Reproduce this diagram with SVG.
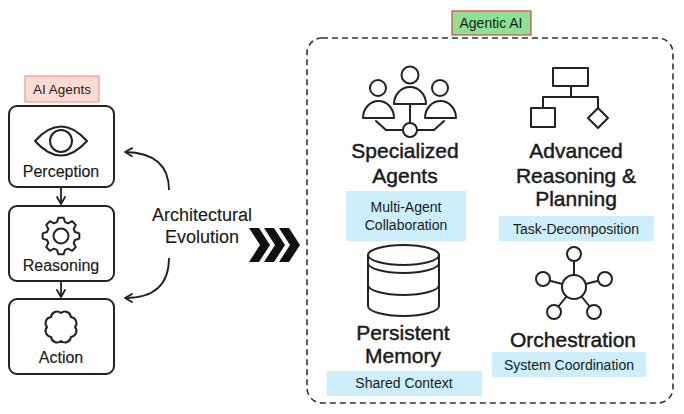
<svg xmlns="http://www.w3.org/2000/svg" width="684" height="414" viewBox="0 0 684 414">
<style>
text{font-family:"Liberation Sans",Arial,sans-serif;fill:#1a1a1a;text-anchor:middle}
.box{fill:#fff;stroke:#222;stroke-width:2}
.ic{fill:none;stroke:#222;stroke-width:2;stroke-linejoin:round;stroke-linecap:round}
.icw{fill:#fff;stroke:#222;stroke-width:2;stroke-linejoin:round}
.lbl{font-size:16px;stroke:#1a1a1a;stroke-width:0.15}
.head{font-size:21px;stroke:#1a1a1a;stroke-width:0.45}
.sub{font-size:14px}
.tag{fill:#cdeefb}
.con{fill:none;stroke:#222;stroke-width:1.8}
</style>
<defs>
<marker id="ah" markerWidth="10" markerHeight="10" refX="8" refY="5" orient="auto" markerUnits="userSpaceOnUse">
<path d="M1,1 L8,5 L1,9" fill="none" stroke="#222" stroke-width="1.8" stroke-linecap="round" stroke-linejoin="round"/>
</marker>
<path id="chev" d="M0,0 L10,0 L21,17 L10,34 L0,34 L11,17 Z"/>
</defs>
<rect width="684" height="414" fill="#fff"/>

<g id="ai-agents-label">
<rect x="25" y="76" width="74" height="26" fill="#fcdcd2" stroke="#e98a80" stroke-width="1"/>
<text x="62" y="94" style="font-size:13.5px">AI Agents</text>
</g>

<g id="perception">
<rect class="box" x="9" y="106" width="105" height="81" rx="8"/>
<path class="ic" d="M35,141 Q61,112 87,141 Q61,170 35,141 Z"/>
<circle class="ic" cx="61" cy="141" r="11"/>
<text class="lbl" x="61" y="177">Perception</text>
</g>

<g id="reasoning">
<rect class="box" x="9" y="206" width="105" height="75" rx="8"/>
<g transform="translate(61,236)">
<path class="ic" d="M-4,-13.94 L-2.58,-18.32 L2.58,-18.32 L4,-13.94 L7.03,-12.68 L11.13,-14.77 L14.77,-11.13 L12.68,-7.03 L13.94,-4 L18.32,-2.58 L18.32,2.58 L13.94,4 L12.68,7.03 L14.77,11.13 L11.13,14.77 L7.03,12.68 L4,13.94 L2.58,18.32 L-2.58,18.32 L-4,13.94 L-7.03,12.68 L-11.13,14.77 L-14.77,11.13 L-12.68,7.03 L-13.94,4 L-18.32,2.58 L-18.32,-2.58 L-13.94,-4 L-12.68,-7.03 L-14.77,-11.13 L-11.13,-14.77 L-7.03,-12.68 Z"/>
<circle class="ic" cx="0" cy="0" r="7.5"/>
</g>
<text class="lbl" x="61" y="271">Reasoning</text>
</g>

<g id="action">
<rect class="box" x="9" y="299" width="105" height="75" rx="8"/>
<g transform="translate(61,327)">
<path class="ic" d="M0,-14 A6 6 0 0 1 9.9,-9.9 A6 6 0 0 1 14,0 A6 6 0 0 1 9.9,9.9 A6 6 0 0 1 0,14 A6 6 0 0 1 -9.9,9.9 A6 6 0 0 1 -14,0 A6 6 0 0 1 -9.9,-9.9 A6 6 0 0 1 0,-14 Z"/>
</g>
<text class="lbl" x="61" y="363">Action</text>
</g>

<g id="evolution-label">
<text class="lbl" x="202" y="221" style="font-size:18px">Architectural</text>
<text class="lbl" x="202" y="243" style="font-size:18px">Evolution</text>
</g>

<g id="chevrons" fill="#111">
<use href="#chev" x="249" y="228"/>
<use href="#chev" x="264" y="228"/>
<use href="#chev" x="279" y="228"/>
</g>

<g id="connectors">
<line class="con" x1="61" y1="188" x2="61" y2="204" marker-end="url(#ah)"/>
<line class="con" x1="61" y1="282" x2="61" y2="297" marker-end="url(#ah)"/>
<path class="con" d="M169,190 Q169,153 125,152" marker-end="url(#ah)"/>
<path class="con" d="M169,258 Q169,298 125,298" marker-end="url(#ah)"/>
</g>

<g id="agentic-ai-label">
<rect x="452" y="11" width="79" height="24" fill="#8ee092" stroke="#e04040" stroke-width="1.2"/>
<text x="491" y="28" style="font-size:14px">Agentic AI</text>
</g>

<g id="agentic-ai">
<rect x="307" y="38" width="366" height="365" rx="15" fill="none" stroke="#333" stroke-width="1.6" stroke-dasharray="6 4"/>
</g>

<g id="specialized-agents">
<circle class="icw" cx="410" cy="75" r="8.5"/>
<circle class="icw" cx="378" cy="88" r="8"/>
<circle class="icw" cx="440" cy="88" r="8"/>
<path class="icw" d="M394,104 A16 17 0 0 1 426,104 Z"/>
<path class="icw" d="M363,118 A15.5 17 0 0 1 394,118 Z"/>
<path class="icw" d="M425,118 A15.5 17 0 0 1 456,118 Z"/>
<path class="ic" d="M410,104 L410,123 M376,121 L386,130 L403,130 M444,121 L434,130 L417,130"/>
<circle class="icw" cx="410" cy="130" r="7"/>
<text class="head" x="405" y="158">Specialized</text>
<text class="head" x="405" y="183">Agents</text>
<rect class="tag" x="346" y="191" width="120" height="50"/>
<text class="sub" x="406" y="212">Multi-Agent</text>
<text class="sub" x="406" y="230">Collaboration</text>
</g>

<g id="advanced-reasoning">
<rect class="icw" x="553" y="68" width="35" height="18"/>
<path class="ic" d="M571,86 L571,97 M543,97 L598,97 M543,97 L543,108 M598,97 L598,108"/>
<rect class="icw" x="531" y="108" width="24" height="19"/>
<path class="icw" d="M598,108 L608,118 L598,128 L588,118 Z"/>
<text class="head" x="576" y="158">Advanced</text>
<text class="head" x="576" y="183">Reasoning &amp;</text>
<text class="head" x="576" y="206">Planning</text>
<rect class="tag" x="499" y="216" width="155" height="25"/>
<text class="sub" x="576" y="234">Task-Decomposition</text>
</g>

<g id="persistent-memory">
<path class="icw" d="M368,255 L368,306 A35.5 10 0 0 0 439,306 L439,255"/>
<ellipse class="icw" cx="403.5" cy="255" rx="35.5" ry="10"/>
<path class="ic" d="M368,263 A35.5 10 0 0 0 439,263 M368,285 A35.5 10 0 0 0 439,285"/>
<text class="head" x="403" y="340">Persistent</text>
<text class="head" x="403" y="363">Memory</text>
<rect class="tag" x="327" y="371" width="155" height="25"/>
<text class="sub" x="404" y="388">Shared Context</text>
</g>

<g id="orchestration">
<path class="ic" d="M574,287 L574,254 M574,287 L605,279 M574,287 L543,279 M574,287 L554,312 M574,287 L594,312"/>
<circle class="icw" cx="574" cy="287" r="12"/>
<circle class="icw" cx="574" cy="254" r="7"/>
<circle class="icw" cx="605" cy="279" r="7"/>
<circle class="icw" cx="543" cy="279" r="7"/>
<circle class="icw" cx="554" cy="312" r="7"/>
<circle class="icw" cx="594" cy="312" r="7"/>
<text class="head" x="573" y="347">Orchestration</text>
<rect class="tag" x="492" y="352" width="154" height="25"/>
<text class="sub" x="569" y="370">System Coordination</text>
</g>
</svg>
